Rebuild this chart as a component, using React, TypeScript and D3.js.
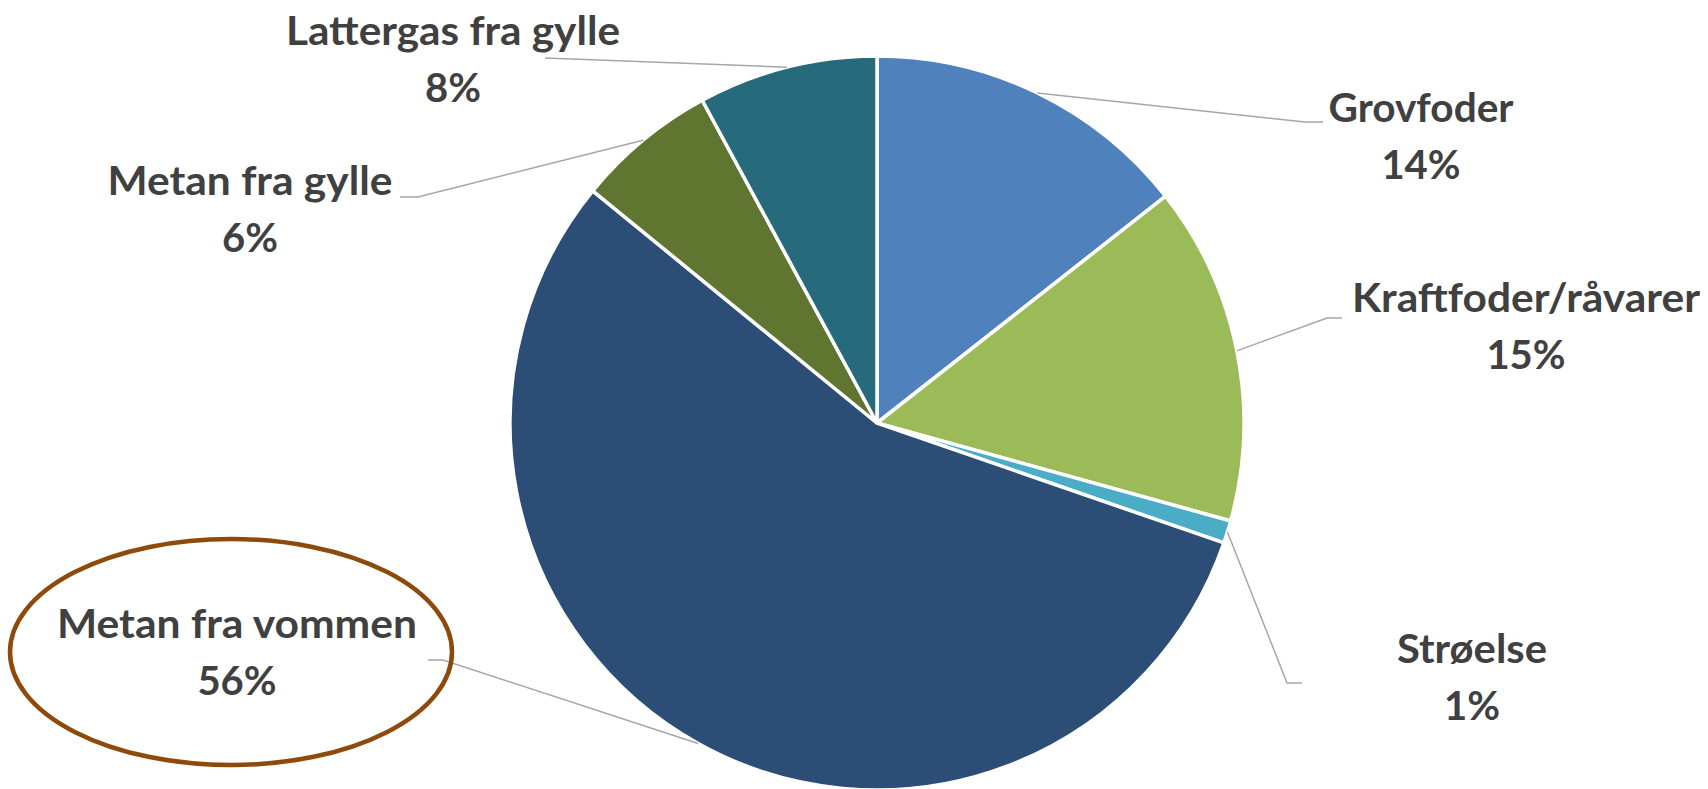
import React from "react";
import * as d3 from "d3";

const categories = ["Grovfoder", "Kraftfoder/råvarer", "Strøelse", "Metan fra vommen", "Metan fra gylle", "Lattergas fra gylle"];
const values = [14.4, 14.9, 1.0, 55.6, 6.2, 7.9];
const percentLabels = ["14%", "15%", "1%", "56%", "6%", "8%"];
const colors = ["#4f81bd", "#9bbb59", "#4bacc6", "#2c4d75", "#5f7530", "#276a7c"];

const W = 1708;
const H = 789;
const CX = 877;
const CY = 423;
const R = 367;
const LINE_GAP = 57;

// label layout: text centre x, first baseline y, name width, leader path points (label side)
const layout = [
  { x: 1421, y: 122, w: 185, lead: [[1323, 122], [1305, 122]] },
  { x: 1526, y: 312, w: 348, lead: [[1342, 318], [1327, 318]] },
  { x: 1472, y: 663, w: 150, lead: [[1302, 683], [1287, 683]] },
  { x: 237, y: 638, w: 360, lead: [[428, 660], [443, 660]] },
  { x: 250, y: 195, w: 285, lead: [[400, 197], [418, 197]] },
  { x: 453, y: 45, w: 334, lead: [[545, 58]] },
];

export default function App() {
  const data = categories.map((c, i) => ({ name: c, value: values[i], pct: percentLabels[i], color: colors[i] }));
  const pie = d3.pie<any>().sort(null).value((d: any) => d.value);
  const arcs = pie(data);
  const arcGen = d3.arc<any>().innerRadius(0).outerRadius(R);

  return (
    <svg
      width={W}
      height={H}
      style={{ position: "absolute", left: 0, top: 0, background: "#ffffff" }}
      fontFamily="Lato, 'Open Sans', sans-serif"
    >
      <rect x={0} y={0} width={W} height={H} fill="#ffffff" />
      <g transform={`translate(${CX},${CY})`}>
        {arcs.map((a, i) => (
          <path key={i} d={arcGen(a) as string} fill={a.data.color} stroke="#ffffff" strokeWidth={3.5} strokeLinejoin="round" />
        ))}
      </g>
      {arcs.map((a, i) => {
        const mid = (a.startAngle + a.endAngle) / 2;
        const px = CX + R * Math.sin(mid);
        const py = CY - R * Math.cos(mid);
        const pts = [...layout[i].lead, [px, py]];
        const line = d3.line()(pts as [number, number][]) as string;
        return <path key={"l" + i} d={line} fill="none" stroke="#a6a6a6" strokeWidth={1.5} />;
      })}
      {data.map((d, i) => {
        const L = layout[i];
        return (
          <g key={"t" + i} fill="#404040" fontWeight="bold" fontSize={40} textAnchor="middle">
            <text x={L.x} y={L.y} textLength={L.w} lengthAdjust="spacingAndGlyphs">
              {d.name}
            </text>
            <text x={L.x} y={L.y + LINE_GAP}>{d.pct}</text>
          </g>
        );
      })}
      <ellipse cx={231} cy={652} rx={221} ry={113} fill="none" stroke="#8e4a0b" strokeWidth={4.5} />
    </svg>
  );
}
